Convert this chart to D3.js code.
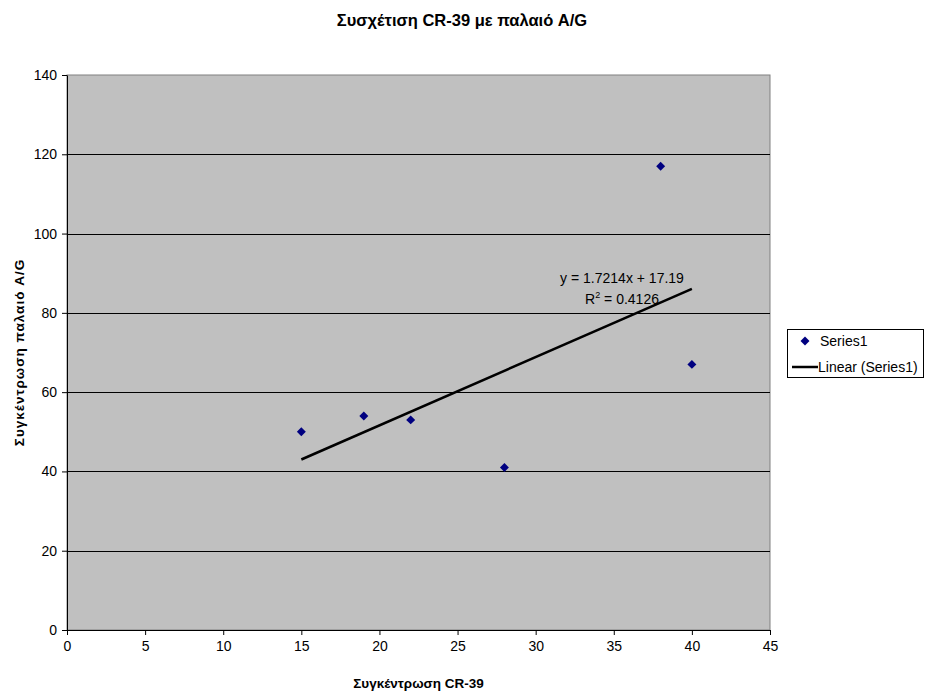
<!DOCTYPE html>
<html>
<head>
<meta charset="utf-8">
<script src="https://cdn.jsdelivr.net/npm/d3@7"></script>
<style>
  html, body { margin: 0; padding: 0; background: #fff; }
  text { font-family: "Liberation Sans", Arial, sans-serif; }
</style>
</head>
<body>
<svg id="chart" width="928" height="691"></svg>
<script>
const chartTitle = "Συσχέτιση CR-39 με παλαιό A/G";
const xTitle = "Συγκέντρωση CR-39";
const yTitle = "Συγκέντρωση παλαιό A/G";
const xValues = [15, 19, 22, 28, 38, 40];
const yValues = [50, 54, 53, 41, 117, 67];
const xTicks = [0, 5, 10, 15, 20, 25, 30, 35, 40, 45];
const yTicks = [0, 20, 40, 60, 80, 100, 120, 140];
const trendSlope = [1.7214];
const trendIntercept = [17.19];
const trendRange = [15, 40];
const equationLines = ["y = 1.7214x + 17.19", "R2 = 0.4126"];
const legendLabels = ["Series1", "Linear (Series1)"];

const svg = d3.select("#chart");
const plot = { left: 67, top: 75, right: 770, bottom: 630 };

const x = d3.scaleLinear().domain([0, 45]).range([plot.left, plot.right]);
const y = d3.scaleLinear().domain([0, 140]).range([plot.bottom, plot.top]);

// plot background
svg.append("rect")
  .attr("x", plot.left).attr("y", plot.top)
  .attr("width", plot.right - plot.left).attr("height", plot.bottom - plot.top)
  .attr("fill", "#c0c0c0")
  .attr("stroke", "#808080").attr("stroke-width", 1);

// gridlines
svg.append("g").selectAll("line")
  .data(yTicks.filter(d => d > 0 && d < 140))
  .join("line")
  .attr("x1", plot.left).attr("x2", plot.right)
  .attr("y1", d => Math.round(y(d)) + 0.5).attr("y2", d => Math.round(y(d)) + 0.5)
  .attr("stroke", "#000").attr("stroke-width", 1);

// axes
const xAxis = d3.axisBottom(x).tickValues(xTicks).tickSizeInner(5).tickSizeOuter(0).tickPadding(6);
const yAxis = d3.axisLeft(y).tickValues(yTicks).tickSizeInner(5).tickSizeOuter(0).tickPadding(5);

const gx = svg.append("g").attr("transform", `translate(0,${plot.bottom})`).call(xAxis);
const gy = svg.append("g").attr("transform", `translate(${plot.left},0)`).call(yAxis);
[gx, gy].forEach(g => {
  g.select(".domain").attr("stroke", "#000").attr("stroke-width", 1);
  g.selectAll(".tick line").attr("stroke", "#000");
  g.selectAll(".tick text").attr("fill", "#000")
    .style("font-family", "'Liberation Sans', Arial, sans-serif").style("font-size", "14px");
});

// trend line
svg.append("line")
  .attr("x1", x(trendRange[0])).attr("y1", y(trendSlope[0] * trendRange[0] + trendIntercept[0]))
  .attr("x2", x(trendRange[1])).attr("y2", y(trendSlope[0] * trendRange[1] + trendIntercept[0]))
  .attr("stroke", "#000").attr("stroke-width", 2.5);

// markers
svg.append("g").selectAll("path")
  .data(xValues.map((v, i) => [v, yValues[i]]))
  .join("path")
  .attr("d", d3.symbol().type(d3.symbolSquare).size(40))
  .attr("transform", d => `translate(${x(d[0])},${y(d[1])}) rotate(45)`)
  .attr("fill", "#000080");

// equation
const eq = svg.append("g").style("font-size", "14px").attr("fill", "#000");
eq.append("text").attr("x", 622).attr("y", 283).attr("text-anchor", "middle").text(equationLines[0]);
const r2 = eq.append("text").attr("x", 622).attr("y", 304).attr("text-anchor", "middle");
r2.append("tspan").text("R");
r2.append("tspan").attr("dy", -6).style("font-size", "9px").text("2");
r2.append("tspan").attr("dy", 6).text(" = 0.4126");

// titles
svg.append("text").attr("x", 462).attr("y", 26).attr("text-anchor", "middle")
  .style("font-size", "16.5px").style("font-weight", "bold").text(chartTitle);
svg.append("text").attr("x", (plot.left + plot.right) / 2).attr("y", 688).attr("text-anchor", "middle")
  .style("font-size", "13.5px").style("font-weight", "bold").text(xTitle);
svg.append("text").attr("transform", `translate(24,${(plot.top + plot.bottom) / 2}) rotate(-90)`)
  .attr("text-anchor", "middle")
  .style("font-size", "13.5px").style("font-weight", "bold").style("letter-spacing", "1px").text(yTitle);

// legend
const lg = svg.append("g");
lg.append("rect").attr("x", 787.5).attr("y", 329.5).attr("width", 136).attr("height", 48)
  .attr("fill", "#fff").attr("stroke", "#000").attr("stroke-width", 1);
lg.append("path").attr("d", d3.symbol().type(d3.symbolSquare).size(40))
  .attr("transform", "translate(805,341) rotate(45)").attr("fill", "#000080");
lg.append("line").attr("x1", 792).attr("x2", 818).attr("y1", 367).attr("y2", 367)
  .attr("stroke", "#000").attr("stroke-width", 2.5);
lg.append("text").attr("x", 820).attr("y", 346).style("font-size", "14px").text(legendLabels[0]);
lg.append("text").attr("x", 818).attr("y", 372).style("font-size", "14px").text(legendLabels[1]);
</script>
</body>
</html>
